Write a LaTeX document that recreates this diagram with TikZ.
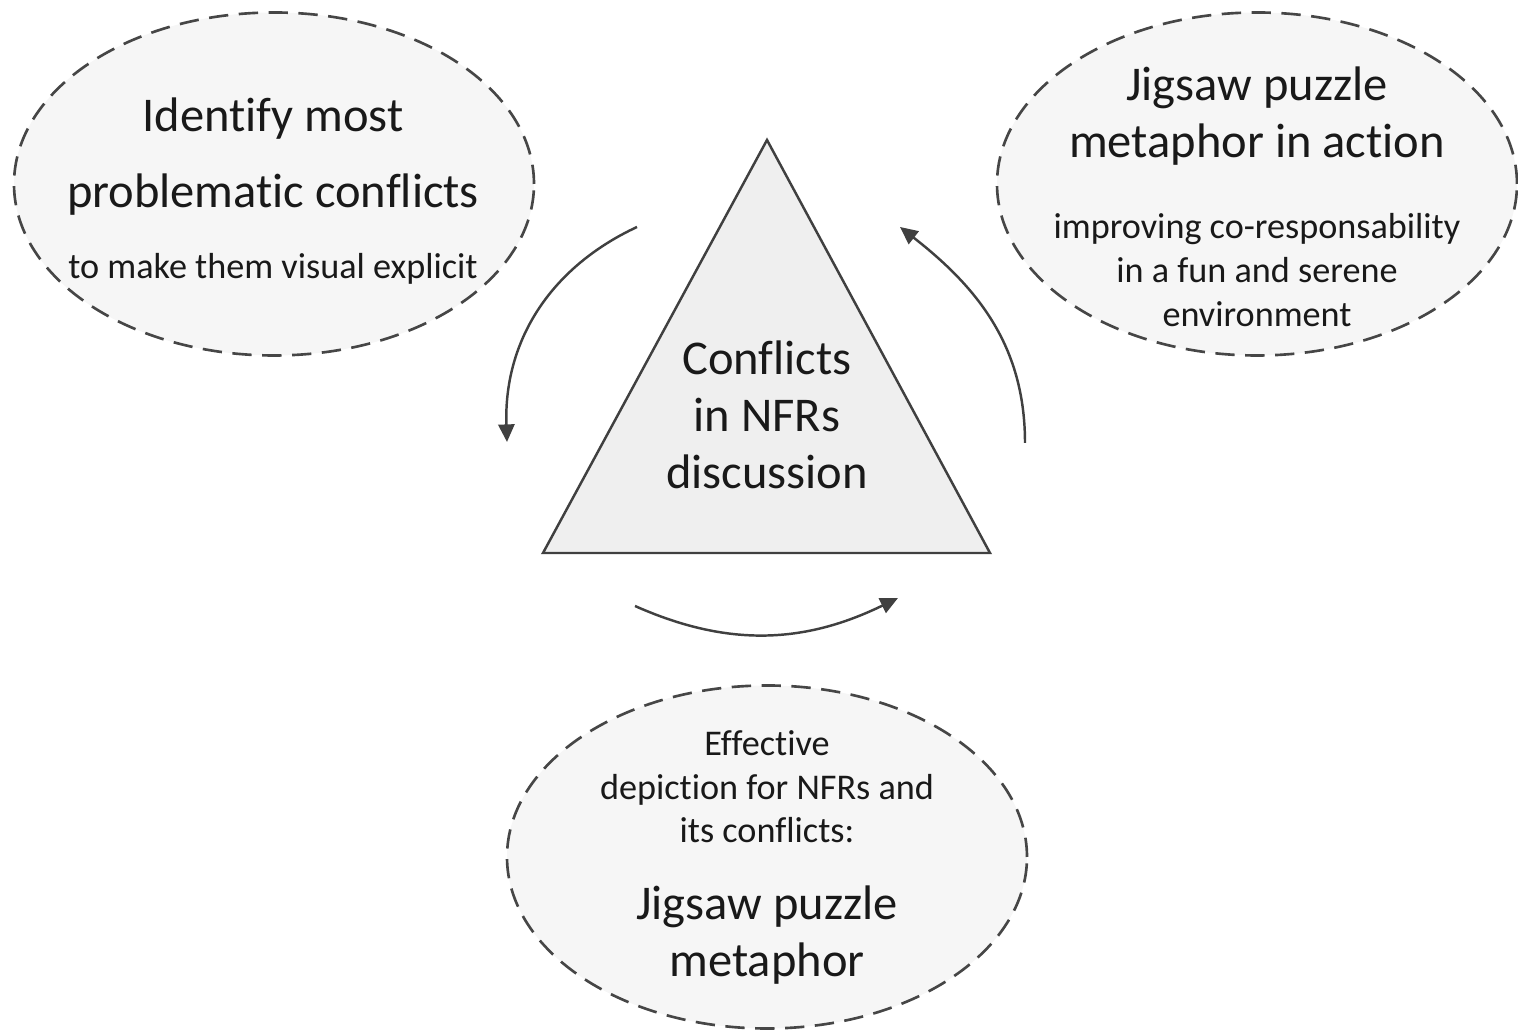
\documentclass[tikz,border=0pt]{standalone}
\usepackage{fontspec}
\setmainfont{Carlito}[Ligatures=NoCommon]
\usepackage{xcolor}
\usepackage{tikz}
\usetikzlibrary{arrows.meta,positioning,shapes.geometric}
\definecolor{lineGray}{HTML}{404040}
\definecolor{dashGray}{HTML}{464646}
\definecolor{softFill}{HTML}{F6F6F6}
\definecolor{triFill}{HTML}{EFEFEF}

\begin{document}
\begin{tikzpicture}[>={Triangle[length=5pt,width=4.6pt]}, font=\fontsize{13.8}{16.2}\selectfont, text=black!90]
    \useasboundingbox (0,0) rectangle (15.18,10.31);
    \tikzset{
        bubble/.style={ellipse, draw=dashGray, dash pattern=on 5.5pt off 3pt, line width=0.75pt, fill=softFill, minimum width=5.2cm, minimum height=3.43cm, inner sep=0pt},
        smalltxt/.style={font=\fontsize{10.3}{12.4}\selectfont, align=center},
        bigtxt/.style={align=center},
        loopArrow/.style={->, draw=lineGray, line width=0.7pt}
    }

    % dashed bubbles
    \node[bubble] (identify) at (2.74,8.47) {};
    \node[bubble] (action) at (12.57,8.47) {};
    \node[bubble] (depict) at (7.67,1.74) {};

    % central triangle
    \coordinate (apex) at (7.67,8.91);
    \coordinate (baseL) at (5.43,4.78);
    \coordinate (baseR) at (9.90,4.78);
    \draw[draw=lineGray, line width=0.7pt, fill=triFill] (apex) -- (baseL) -- (baseR) -- cycle;
    \node[bigtxt] (conflicts) at (7.67,6.16) {Conflicts\\in NFRs\\discussion};

    % texts
    \node[bigtxt] (identifyTitle) at (2.73,8.74) {Identify most\\[5.4pt]problematic conflicts};
    \node[smalltxt] (identifyNote) at (2.73,7.62) {to make them visual explicit};
    \node[bigtxt] (actionTitle) at (12.57,9.15) {Jigsaw puzzle\\metaphor in action};
    \node[smalltxt] (actionNote) at (12.57,7.61) {improving co-responsability\\in a fun and serene\\environment};
    \node[smalltxt] (depictNote) at (7.67,2.44) {Effective\\depiction for NFRs and\\its conflicts:};
    \node[bigtxt] (depictTitle) at (7.67,0.96) {Jigsaw puzzle\\metaphor};

    % cycle arrows
    \coordinate (l1) at (6.37,8.04);
    \coordinate (l2) at (5.07,5.89);
    \coordinate (b1) at (6.35,4.25);
    \coordinate (b2) at (8.98,4.33);
    \coordinate (r1) at (10.25,5.88);
    \coordinate (r2) at (9.00,8.04);
    \draw[loopArrow] (l1) to[out=205,in=92] (l2);
    \draw[loopArrow] (b1) to[out=-24,in=206] (b2);
    \draw[loopArrow] (r1) to[out=90,in=-38] (r2);
\end{tikzpicture}
\end{document}
